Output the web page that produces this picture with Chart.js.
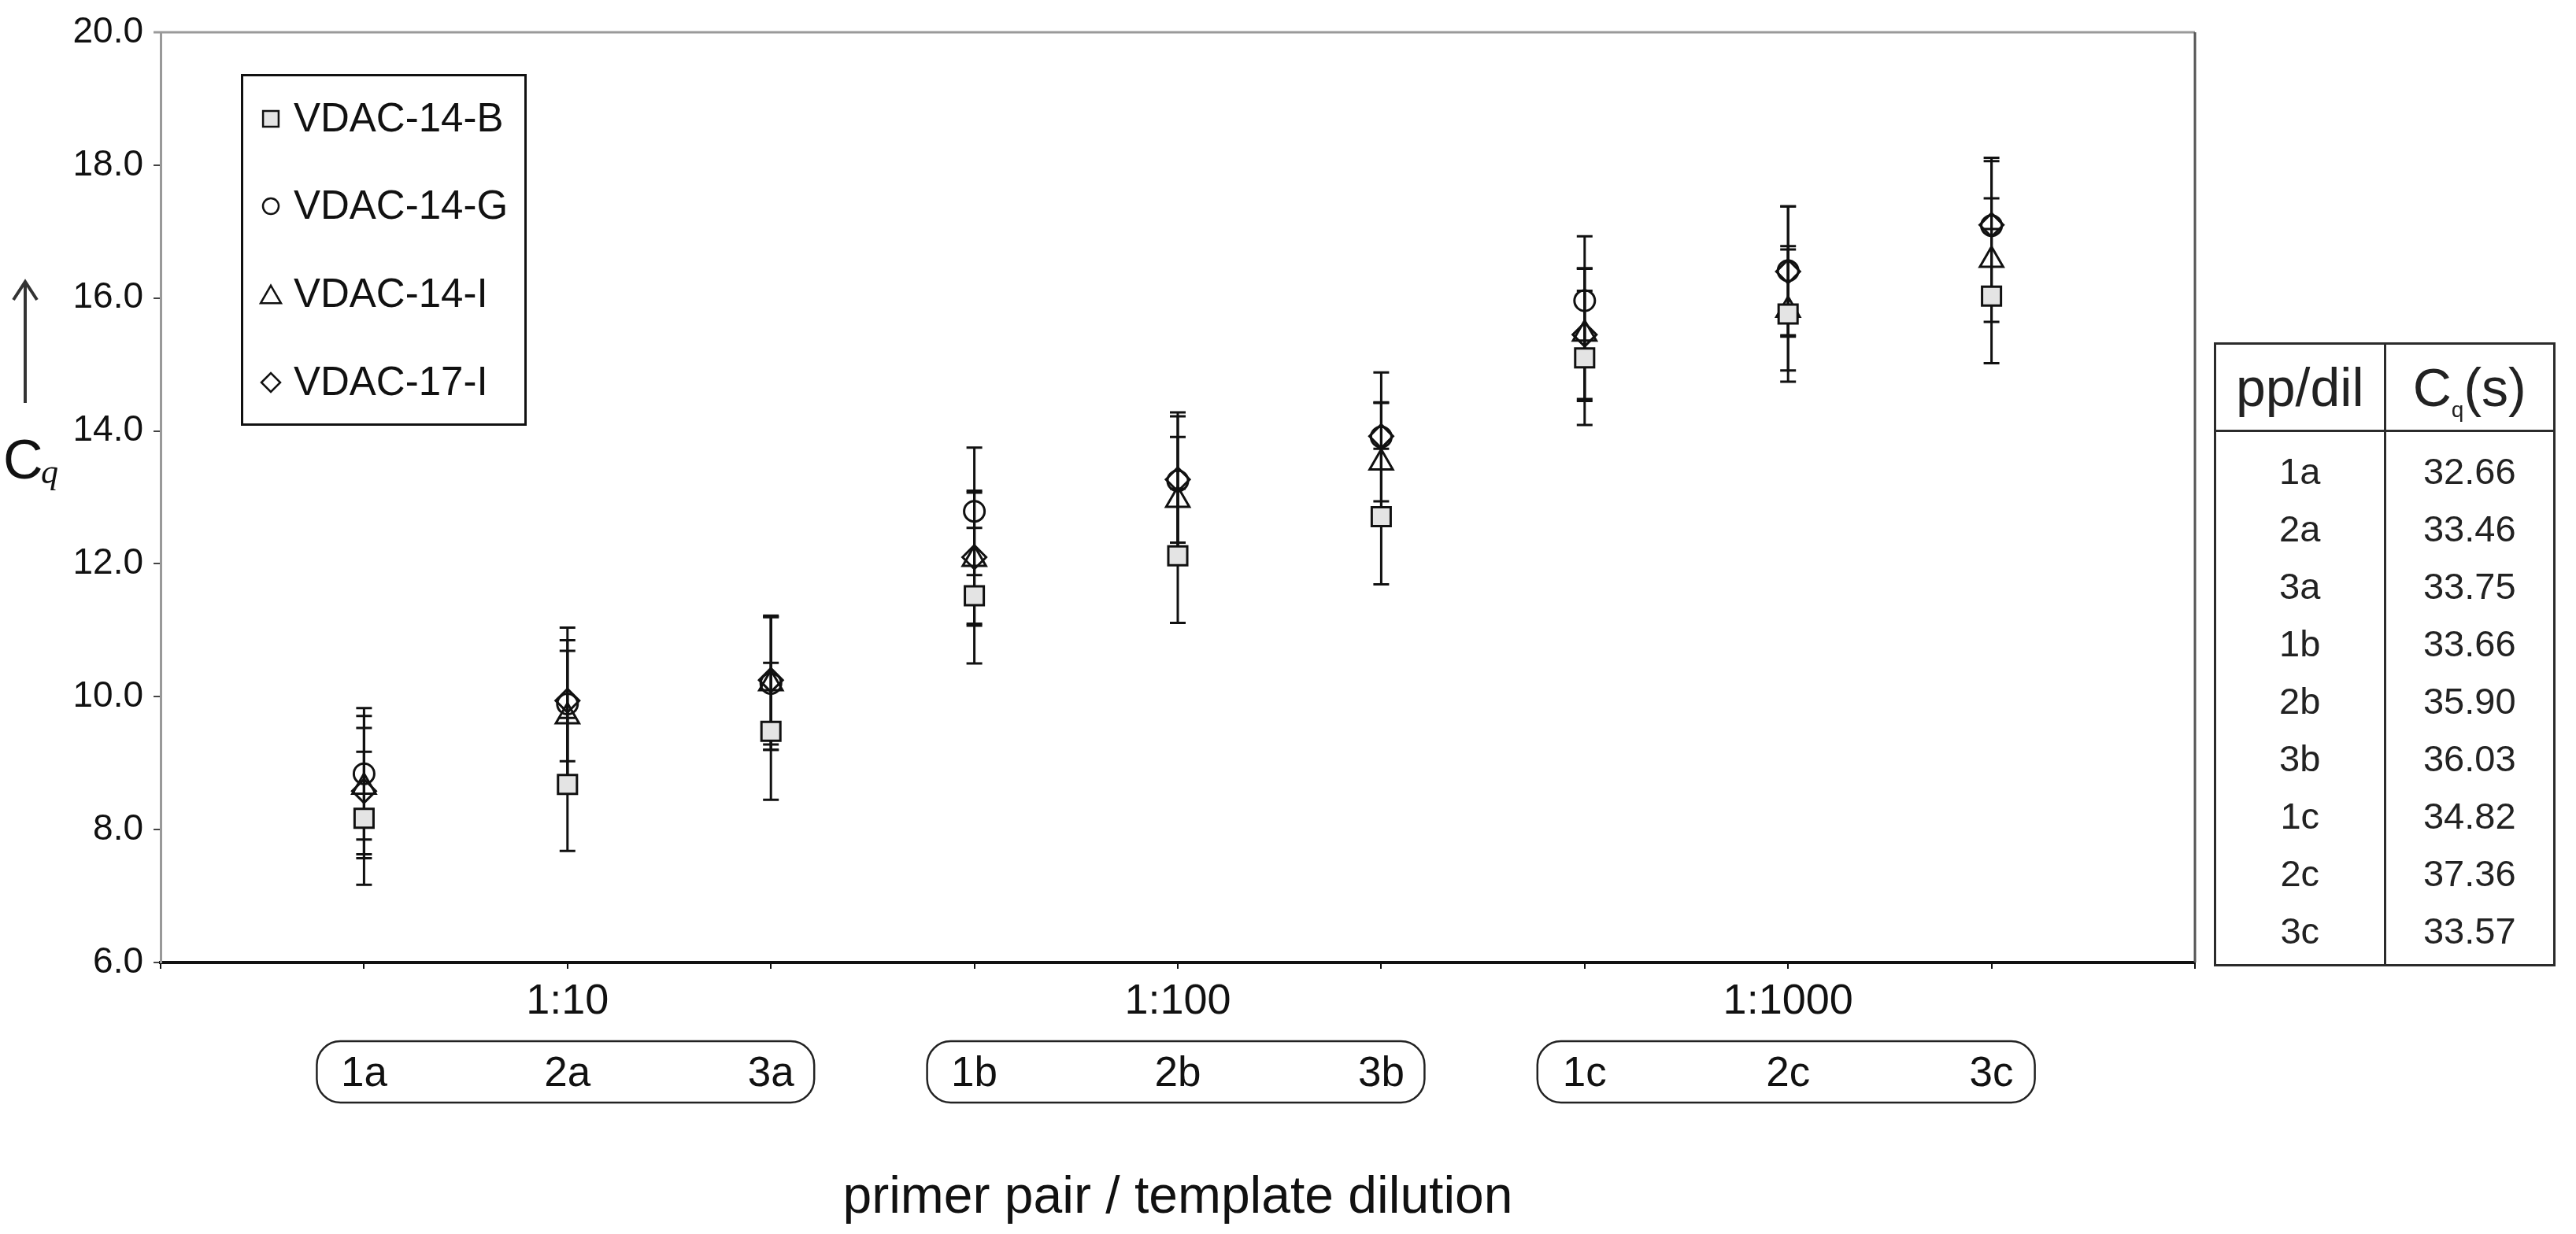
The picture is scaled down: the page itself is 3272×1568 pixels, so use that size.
<!DOCTYPE html>
<html>
<head>
<meta charset="utf-8">
<script src="https://cdn.jsdelivr.net/npm/chart.js@4.4.1/dist/chart.umd.min.js"></script>
<style>
  body { margin: 0; background: #fff; }
  #wrap { position: relative; width: 3272px; height: 1568px; }
  #tbl { position: absolute; left: 2812px; top: 435px; width: 434px; table-layout: fixed;
         border-collapse: collapse; border: 3px solid #2b2b2b;
         font-family: "Liberation Sans", Arial, sans-serif; color: #222; }
  #tbl th, #tbl td { padding: 0; text-align: center; font-weight: normal; }
  #tbl th { height: 108px; font-size: 68px; border-bottom: 3px solid #2b2b2b; }
  #tbl th:first-child, #tbl td:first-child { border-right: 3px solid #2b2b2b; }
  #tbl td { height: 73px; font-size: 47px; line-height: 73px; }
  #tbl tbody tr:first-child td { padding-top: 13px; }
  #tbl tbody tr:last-child td { padding-bottom: 6px; }
  #tbl sub { font-size: 28px; vertical-align: -14px; line-height: 0; }
</style>
</head>
<body>
<div id="wrap">
  <canvas id="chart" width="3272" height="1568"></canvas>
  <table id="tbl">
    <thead><tr><th>pp/dil</th><th>C<sub>q</sub>(s)</th></tr></thead>
    <tbody id="tbody"></tbody>
  </table>
</div>
<script>
// values
const categories = ['1a', '2a', '3a', '1b', '2b', '3b', '1c', '2c', '3c'];
const dilutions = ['1:10', '1:100', '1:1000'];

const vdac14B = [8.17, 8.68, 9.48, 11.52, 12.12, 12.71, 15.10, 15.76, 16.03];
const err14B  = [1.00, 1.00, 1.03, 1.02, 1.01, 1.02, 1.01, 1.02, 1.01];
const vdac14G = [8.84, 9.89, 10.20, 12.79, 13.25, 13.91, 15.96, 16.41, 17.09];
const err14G  = [0.99, 1.15, 1.00, 0.96, 1.03, 0.97, 0.97, 0.97, 1.02];
const vdac14I = [8.64, 9.70, 10.20, 12.07, 12.96, 13.52, 15.46, 15.82, 16.57];
const err14I  = [1.07, 0.99, 1.00, 1.00, 0.95, 0.91, 0.98, 0.91, 0.93];
const vdac17I = [8.58, 9.94, 10.25, 12.10, 13.27, 13.92, 15.45, 16.40, 17.10];
const err17I  = [0.95, 0.91, 0.97, 1.00, 0.95, 0.50, 1.00, 0.98, 0.96];

const tableCq = ['32.66', '33.46', '33.75', '33.66', '35.90', '36.03', '34.82', '37.36', '33.57'];

const FONT = '"Liberation Sans", Arial, sans-serif';
Chart.defaults.font.family = FONT;
Chart.defaults.color = '#111';

// table on the right
const tbody = document.getElementById('tbody');
categories.forEach((c, i) => {
  const tr = document.createElement('tr');
  tr.innerHTML = '<td>' + c + '</td><td>' + tableCq[i] + '</td>';
  tbody.appendChild(tr);
});

function pts(vals) { return vals.map((v, i) => ({ x: i + 1, y: v })); }

const datasets = [
  { label: 'VDAC-14-B', data: pts(vdac14B), err: err14B, pointStyle: 'rect', pointRadius: 17,
    pointBackgroundColor: '#e4e4e4', legendRadius: 14 },
  { label: 'VDAC-14-G', data: pts(vdac14G), err: err14G, pointStyle: 'circle', pointRadius: 13,
    pointBackgroundColor: 'rgba(0,0,0,0)', legendRadius: 10 },
  { label: 'VDAC-14-I', data: pts(vdac14I), err: err14I, pointStyle: 'triangle', pointRadius: 17,
    pointBackgroundColor: 'rgba(0,0,0,0)', legendRadius: 15 },
  { label: 'VDAC-17-I', data: pts(vdac17I), err: err17I, pointStyle: 'rectRot', pointRadius: 15,
    pointBackgroundColor: 'rgba(0,0,0,0)', legendRadius: 12 }
];
datasets.forEach(d => {
  d.pointBorderColor = '#111';
  d.pointBorderWidth = 3;
  d.showLine = false;
});

// vertical error bars with caps, drawn under the markers
const errorBars = {
  id: 'errorBars',
  beforeDatasetsDraw(chart) {
    const { ctx, scales: { x, y } } = chart;
    ctx.save();
    ctx.strokeStyle = '#111';
    ctx.lineWidth = 3;
    chart.data.datasets.forEach(ds => {
      ds.data.forEach((p, i) => {
        const px = x.getPixelForValue(p.x);
        const hi = y.getPixelForValue(p.y + ds.err[i]);
        const lo = y.getPixelForValue(p.y - ds.err[i]);
        ctx.beginPath();
        ctx.moveTo(px, hi); ctx.lineTo(px, lo);
        ctx.moveTo(px - 10, hi); ctx.lineTo(px + 10, hi);
        ctx.moveTo(px - 10, lo); ctx.lineTo(px + 10, lo);
        ctx.stroke();
      });
    });
    ctx.restore();
  }
};

// frame, legend box, y label, sample boxes
const extras = {
  id: 'extras',
  afterDraw(chart) {
    const { ctx, chartArea: a, scales: { x } } = chart;
    ctx.save();

    // top and right frame lines
    ctx.lineWidth = 3;
    ctx.strokeStyle = '#9a9a9a';
    ctx.beginPath(); ctx.moveTo(a.left - 9, a.top); ctx.lineTo(a.right, a.top); ctx.stroke();
    ctx.strokeStyle = '#555';
    ctx.beginPath(); ctx.moveTo(a.right, a.top); ctx.lineTo(a.right, a.bottom); ctx.stroke();

    // legend
    ctx.strokeStyle = '#111';
    ctx.lineWidth = 3;
    ctx.strokeRect(307.5, 95.5, 360, 444);
    const rows = [151, 262, 374, 486];
    chart.data.datasets.forEach((ds, i) => {
      ctx.fillStyle = ds.pointBackgroundColor;
      ctx.strokeStyle = '#111';
      ctx.lineWidth = 2.5;
      const r = ds.legendRadius;
      const yy = rows[i] + (ds.pointStyle === 'triangle' ? r / 4 : 0);
      Chart.helpers.drawPoint(ctx, { pointStyle: ds.pointStyle, radius: r, rotation: 0, borderWidth: 2.5 }, 344, yy);
      ctx.fillStyle = '#111';
      ctx.font = '51px ' + FONT;
      ctx.textAlign = 'left';
      ctx.textBaseline = 'middle';
      ctx.fillText(ds.label, 373, rows[i] + 2);
    });

    // y label: arrow and C_q
    ctx.strokeStyle = '#333';
    ctx.lineWidth = 4;
    ctx.beginPath();
    ctx.moveTo(32, 512); ctx.lineTo(32, 358);
    ctx.moveTo(17, 381); ctx.lineTo(32, 358); ctx.lineTo(47, 381);
    ctx.stroke();
    ctx.fillStyle = '#111';
    ctx.textBaseline = 'alphabetic';
    ctx.textAlign = 'left';
    ctx.font = '70px ' + FONT;
    ctx.fillText('C', 4, 608);
    ctx.font = 'italic 44px "Liberation Serif", serif';
    ctx.fillText('q', 52, 614);

    // rounded boxes with primer pair labels
    ctx.strokeStyle = '#222';
    ctx.lineWidth = 2.5;
    const top = x.top + 100, h = 78;
    dilutions.forEach((d, g) => {
      const x1 = x.getPixelForValue(3 * g + 1) - 60;
      const x2 = x.getPixelForValue(3 * g + 3) + 55;
      ctx.beginPath();
      ctx.roundRect(x1, top, x2 - x1, h, 30);
      ctx.stroke();
      ctx.fillStyle = '#111';
      ctx.font = '53px ' + FONT;
      ctx.textAlign = 'center';
      ctx.textBaseline = 'middle';
      for (let k = 0; k < 3; k++) {
        const idx = 3 * g + k;
        ctx.fillText(categories[idx], x.getPixelForValue(idx + 1), top + h / 2 + 3);
      }
    });
    ctx.restore();
  }
};

new Chart(document.getElementById('chart').getContext('2d'), {
  type: 'scatter',
  data: { datasets },
  options: {
    responsive: false,
    animation: false,
    layout: { padding: { top: 41, right: 484, bottom: 0, left: 0 } },
    plugins: { legend: { display: false }, tooltip: { enabled: false } },
    scales: {
      x: {
        type: 'linear', min: 0, max: 10,
        afterFit: s => { s.height = 345; },
        ticks: {
          stepSize: 1, autoSkip: false, maxRotation: 0, padding: 10,
          font: { size: 54 }, color: '#111',
          callback: v => {
            const k = (v - 2) / 3;
            return Number.isInteger(k) && k >= 0 && k < dilutions.length ? dilutions[k] : '';
          }
        },
        grid: { drawOnChartArea: false, drawTicks: true, tickLength: 8, color: '#111', lineWidth: 2 },
        border: { display: true, color: '#111', width: 4 },
        title: { display: true, text: 'primer pair / template dilution', color: '#111',
                 font: { size: 66 }, padding: { top: 0, bottom: 6 } }
      },
      y: {
        min: 6, max: 20,
        afterFit: s => { s.width = 204; },
        ticks: { stepSize: 2, padding: 13, font: { size: 46 }, color: '#111',
                 callback: v => v.toFixed(1) },
        grid: { drawOnChartArea: false, drawTicks: true, tickLength: 9, color: '#444', lineWidth: 2 },
        border: { display: true, color: '#999', width: 3 }
      }
    }
  },
  plugins: [errorBars, extras]
});
</script>
</body>
</html>
